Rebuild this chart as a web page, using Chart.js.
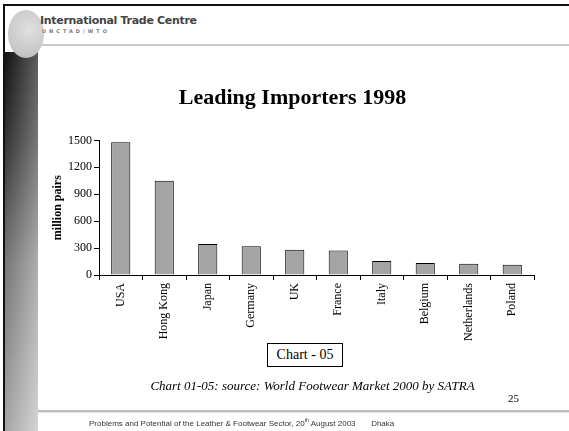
<!DOCTYPE html>
<html>
<head>
<meta charset="utf-8">
<script src="https://cdn.jsdelivr.net/npm/chart.js@4.4.0/dist/chart.umd.min.js"></script>
<style>
    html, body { margin: 0; padding: 0; background: #fff; }
    #slide { position: relative; width: 569px; height: 431px; overflow: hidden; background: #fff; }
    #frameTop { position: absolute; left: 3px; top: 4px; width: 566px; height: 2px; background: #111; }
    #frameLeft { position: absolute; left: 3px; top: 4px; width: 2px; height: 427px; background: #111; }
    #strip { position: absolute; left: 5px; top: 52px; width: 33px; height: 379px;
        background: linear-gradient(to bottom, #161616 0%, #3a3a3a 22%, #8a8a8a 55%, #c2c2c2 100%); }
    #stripShade { position: absolute; left: 5px; top: 52px; width: 33px; height: 379px;
        background: linear-gradient(to right, rgba(0,0,0,0.15), rgba(255,255,255,0.3)); }
    #globe { position: absolute; left: 8px; top: 10px; width: 36px; height: 48px; border-radius: 50%;
        background: radial-gradient(circle at 60% 40%, #e0e0e0, #c6c6c6 70%, #b8b8b8); }
    #headerLine { position: absolute; left: 38px; top: 44px; width: 531px; height: 2px; background: #c8c8c8; }
    #org { position: absolute; left: 40px; top: 14px; font: bold 11px "DejaVu Sans", sans-serif; color: #444; letter-spacing: -0.3px; }
    #orgSub { position: absolute; left: 42px; top: 28px; font: bold 5px "DejaVu Sans", sans-serif; color: #777; letter-spacing: 3px; }
    #chartBox { position: absolute; left: 0; top: 0; width: 569px; height: 431px; }
    #chartLabel { position: absolute; left: 267px; top: 343px; width: 74px; height: 22px; border: 1px solid #000;
        font: 14px "Liberation Serif", serif; text-align: center; line-height: 22px; color: #000; background: #fff; }
    #caption { position: absolute; left: 0; width: 569px; top: 378px; text-align: center; padding-left: 56px; box-sizing: border-box;
        font: italic 13px "Liberation Serif", serif; color: #000; }
    #pageNo { position: absolute; left: 508px; top: 392px; font: 11px "Liberation Serif", serif; color: #000; }
    #footLine { position: absolute; left: 38px; top: 410px; width: 531px; height: 2px; background: #bdbdbd; border-bottom: 1px solid #e6e6e6; }
    #footer { position: absolute; left: 89px; top: 417px; font: 8px "Liberation Sans", sans-serif; color: #333; white-space: pre; }
    #footer sup { font-size: 5px; }
</style>
</head>
<body>
<div id="slide">
    <div id="strip"></div>
    <div id="stripShade"></div>
    <div id="frameTop"></div>
    <div id="frameLeft"></div>
    <div id="globe"></div>
    <div id="headerLine"></div>
    <div id="org">International Trade Centre</div>
    <div id="orgSub">UNCTAD/WTO</div>
    <div id="chartBox"><canvas id="importChart" width="569" height="431"></canvas></div>
    <div id="chartLabel">Chart - 05</div>
    <div id="caption">Chart 01-05: source: World Footwear Market 2000 by SATRA</div>
    <div id="pageNo">25</div>
    <div id="footLine"></div>
    <div id="footer">Problems and Potential of the Leather &amp; Footwear Sector, 20<sup>th</sup> August 2003       Dhaka</div>
</div>
<script>
// Chart data
const countries = ['USA', 'Hong Kong', 'Japan', 'Germany', 'UK', 'France', 'Italy', 'Belgium', 'Netherlands', 'Poland'];
const importPairs = [1480, 1050, 345, 320, 280, 272, 155, 135, 125, 115];
const yTicks = [0, 300, 600, 900, 1200, 1500];

const serif = '"Liberation Serif", "Times New Roman", serif';

new Chart(document.getElementById('importChart').getContext('2d'), {
    type: 'bar',
    data: {
        labels: countries,
        datasets: [{
            label: 'million pairs',
            data: importPairs,
            backgroundColor: '#a4a4a4',
            borderColor: '#000',
            borderWidth: 1,
            barPercentage: 0.44,
            categoryPercentage: 1
        }]
    },
    options: {
        responsive: false,
        animation: false,
        layout: {
            padding: { left: 51, right: 35, top: 0, bottom: 0 }
        },
        plugins: {
            legend: { display: false },
            tooltip: { enabled: false },
            title: {
                display: true,
                text: 'Leading Importers 1998',
                color: '#000',
                font: { family: serif, size: 22, weight: 'bold' },
                padding: { top: 85, bottom: 29 }
            }
        },
        scales: {
            x: {
                afterFit: function(scale) { scale.height = 156; },
                grid: {
                    display: true,
                    offset: true,
                    drawOnChartArea: false,
                    drawTicks: true,
                    tickLength: 5,
                    color: '#000'
                },
                border: { display: true, color: '#000', width: 1 },
                ticks: {
                    color: '#000',
                    minRotation: 90,
                    maxRotation: 90,
                    padding: 3,
                    font: { family: serif, size: 12 }
                }
            },
            y: {
                min: 0,
                max: 1500,
                afterFit: function(scale) { scale.width = 48; },
                afterBuildTicks: function(scale) {
                    scale.ticks = yTicks.map(v => ({ value: v }));
                },
                grid: {
                    drawOnChartArea: false,
                    drawTicks: true,
                    tickLength: 5,
                    color: '#000'
                },
                border: { display: true, color: '#000', width: 1 },
                ticks: {
                    color: '#000',
                    padding: 2,
                    font: { family: serif, size: 12 },
                    callback: function(value) { return String(value); }
                },
                title: {
                    display: true,
                    text: 'million pairs',
                    color: '#000',
                    font: { family: serif, size: 12, weight: 'bold' },
                    padding: 0
                }
            }
        }
    }
});
</script>
</body>
</html>
